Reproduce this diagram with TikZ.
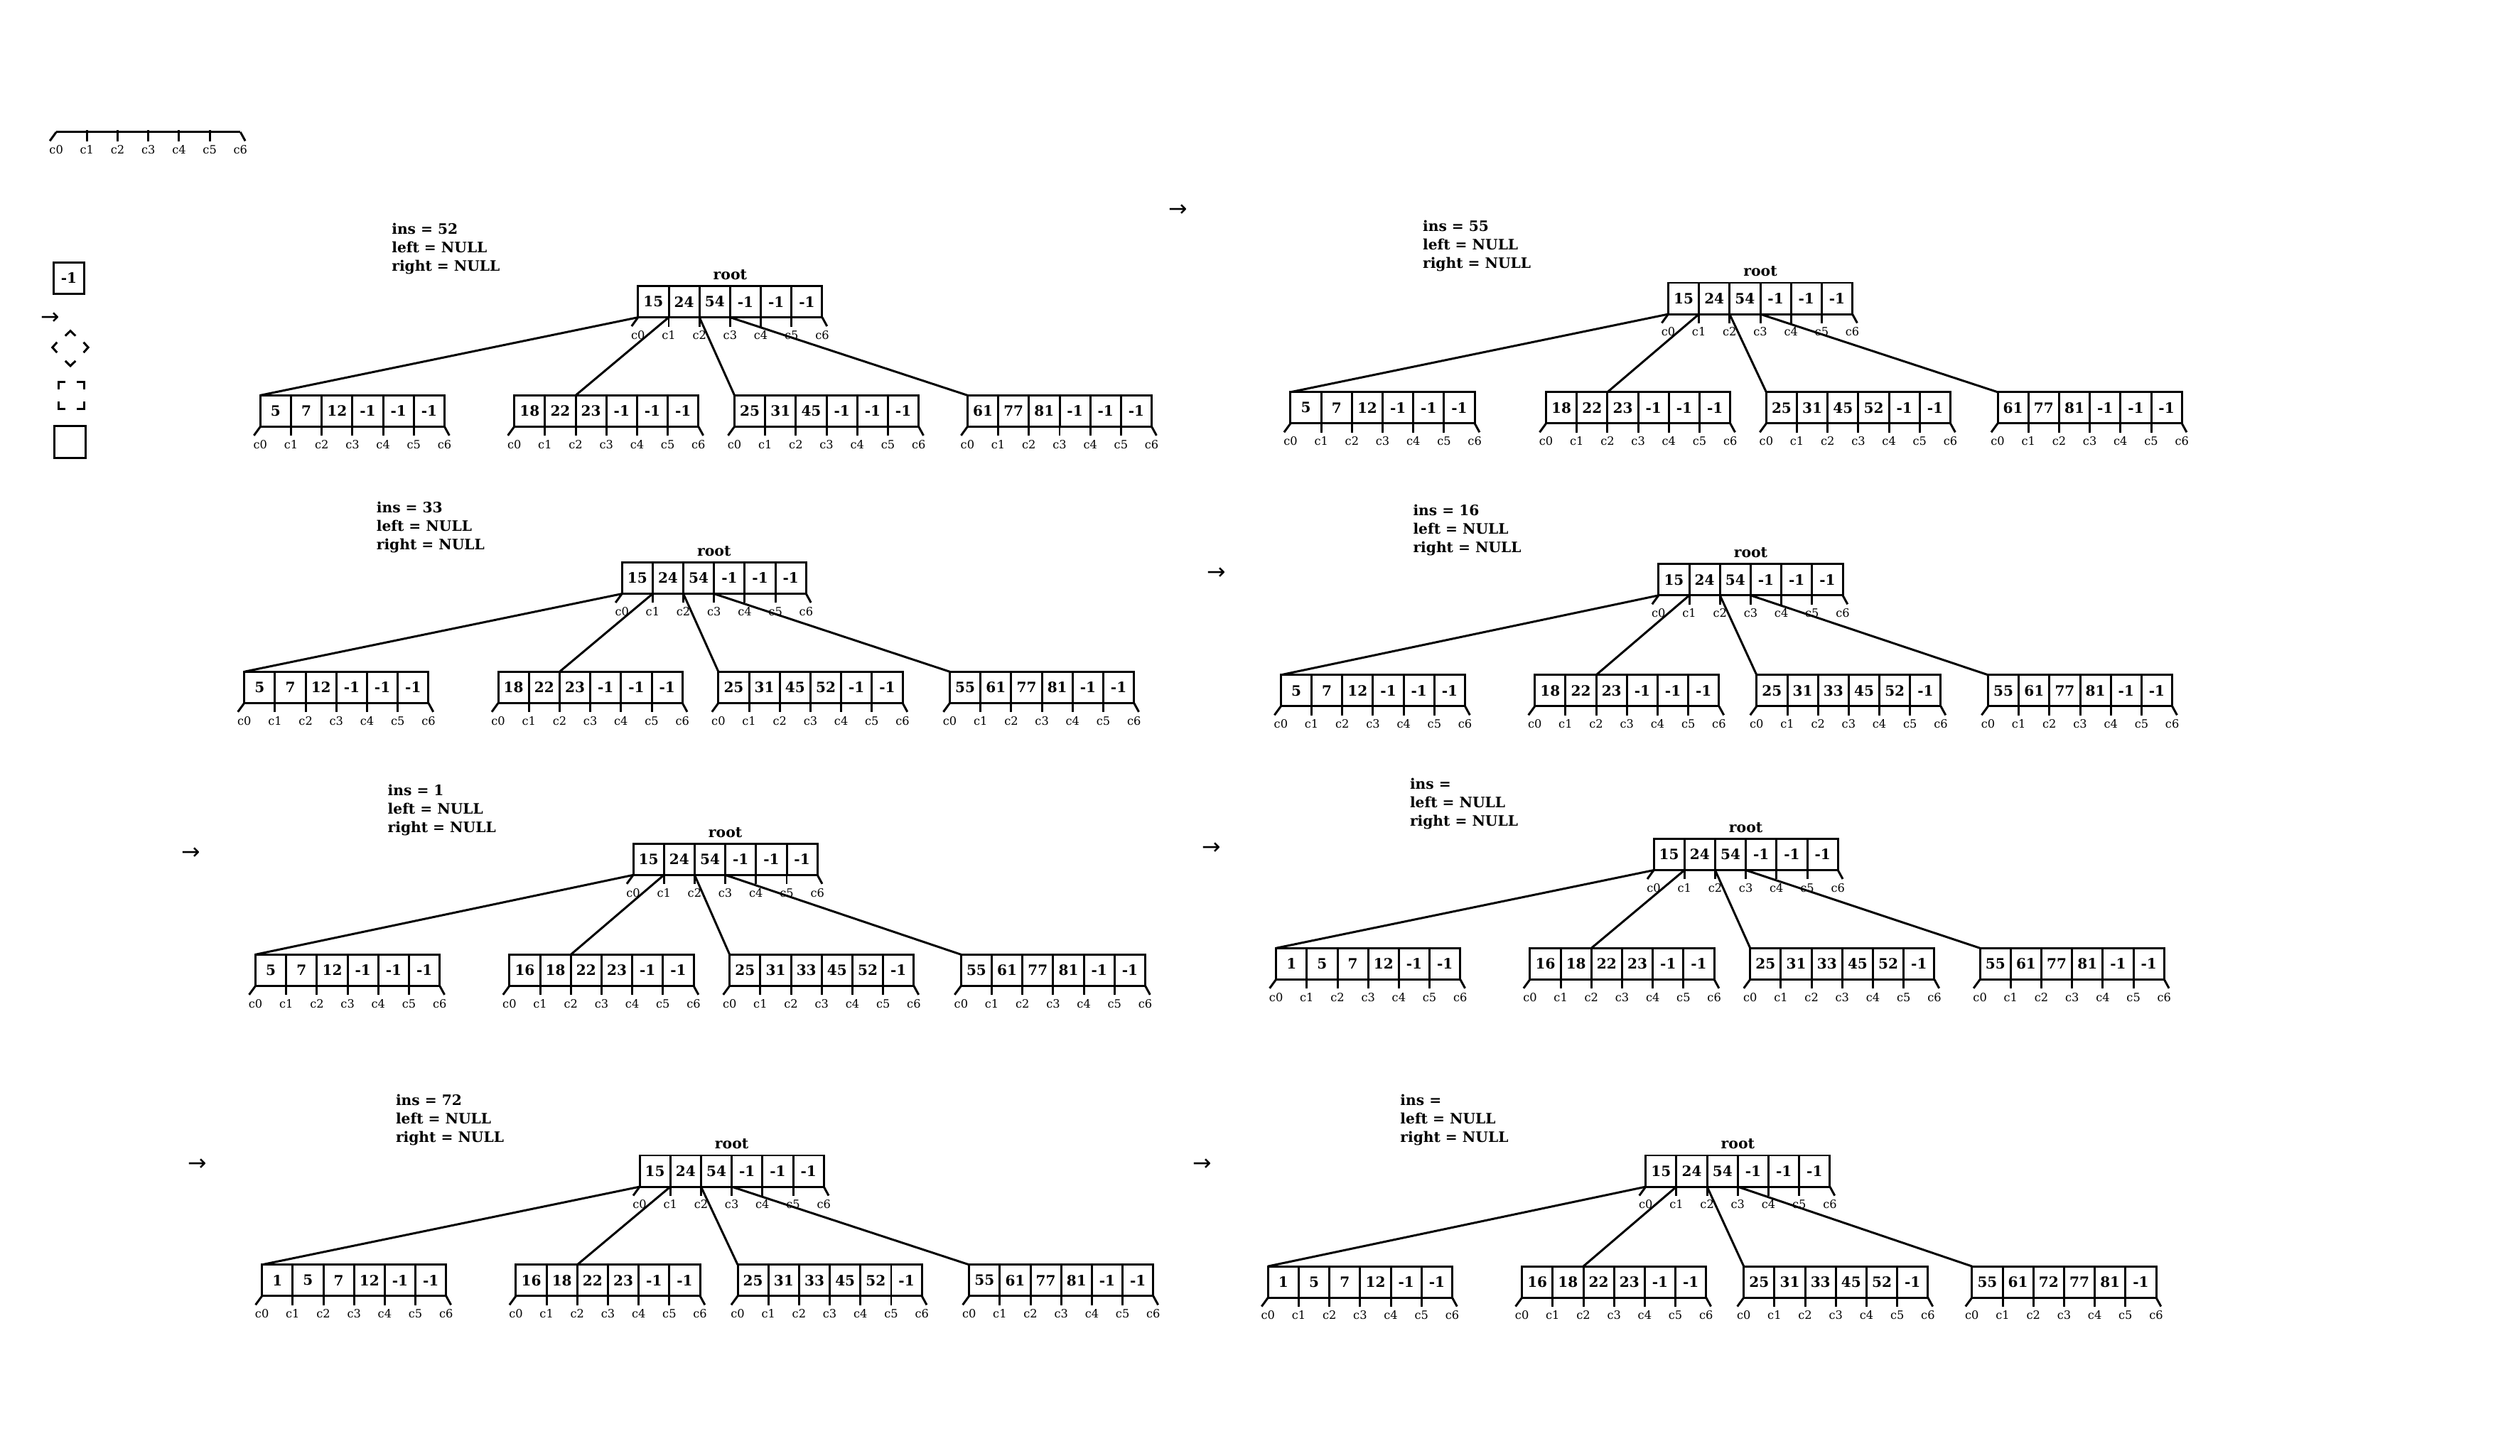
\documentclass[tikz,border=0pt]{standalone}
\usepackage{fontspec}
\setmainfont{DejaVu Serif}
\newfontfamily\arrowfont{DejaVu Sans}

% one B-tree node: #1 name, (#2,#3) top-left corner, #4 the six keys
\newcommand{\keyrow}[4]{%
  \foreach \v [count=\k from 0] in {#4}
    \node[cell] (#1-\k) at ({#2+(\k+0.5)*19.1},{#3+9.75}) {\v};
  \draw[tick] (#1-0.south west) -- ++(-4,5.5);
  \foreach \k in {1,...,5}
    \draw[tick] (#1-\k.south west) -- ++(0,5.7);
  \draw[tick] (#1-5.south east) -- ++(3,5.5);
  \foreach \k in {0,...,5}
    \path (#1-\k.south west) ++(0,11) node[clab] {c\k};
  \path (#1-5.south east) ++(0,11) node[clab] {c6};
}

\begin{document}
\begin{tikzpicture}[
  x=0.022615cm, y=-0.022615cm,
  cell/.style={rectangle, draw, line width=0.85pt, minimum width=0.432cm,
               minimum height=0.441cm, inner sep=0pt, outer sep=0pt,
               font=\bfseries\fontsize{5.7}{6}\selectfont},
  tick/.style={line width=0.85pt},
  link/.style={line width=0.85pt},
  clab/.style={inner sep=0pt, font=\fontsize{4.6}{5}\selectfont},
  info/.style={anchor=west, align=left, inner sep=0pt,
               font=\bfseries\fontsize{5.75}{7.4}\selectfont},
  rootlab/.style={anchor=base, inner sep=0pt, font=\bfseries\fontsize{5.8}{6}\selectfont},
  nextarr/.style={inner sep=0pt, font=\arrowfont\fontsize{9}{9}\selectfont},
]
\useasboundingbox (0,0) rectangle (1568,906);

% ---- Legend ----
\draw[tick] (35,82.2) -- (149.6,82.2);
\draw[tick] (35,82.2) -- ++(-4,5.5);
\foreach \k in {1,...,5}
  \draw[tick] ({35+\k*19.1},81) -- ({35+\k*19.1},87.9);
\draw[tick] (149.6,82.2) -- ++(3,5.5);
\foreach \k in {0,...,6}
  \node[clab] at ({35+\k*19.1},93.3) {c\k};
\node[cell] (empty) at (42.9,173.1) {-1};
\node[nextarr] (arrL) at (31.4,198) {→};
\draw[tick] (40.6,209) -- (43.8,205.9) -- (47,209);
\draw[tick] (35.5,213) -- (32.6,216.2) -- (35.5,219.4);
\draw[tick] (52,213) -- (54.9,216.2) -- (52,219.4);
\draw[tick] (40.6,224.6) -- (43.8,227.7) -- (47,224.6);
\draw[tick] (36.3,242.3) -- (36.3,237.9) -- (40.7,237.9);
\draw[tick] (47.8,237.9) -- (52.2,237.9) -- (52.2,242.3);
\draw[tick] (36.3,249.9) -- (36.3,254.3) -- (40.7,254.3);
\draw[tick] (47.8,254.3) -- (52.2,254.3) -- (52.2,249.9);
\draw[tick] (34,265.3) rectangle (53.5,285.2);

% ---- Panel A: ins = 52 ----
\node[info] (infoA) at (243.5,155) {ins = 52\\left = NULL\\right = NULL};
\keyrow{A0}{397}{178}{15,24,54,-1,-1,-1}
\path (A0-2.north east) ++(0,-4) node[rootlab] (rootA) {root};
\keyrow{A1}{162}{246}{5,7,12,-1,-1,-1}
\keyrow{A2}{320}{246}{18,22,23,-1,-1,-1}
\keyrow{A3}{457}{246}{25,31,45,-1,-1,-1}
\keyrow{A4}{602}{246}{61,77,81,-1,-1,-1}
\draw[link] (A0-0.south west) -- (A1-0.north west);
\draw[link] (A0-1.south west) -- (A2-2.north west);
\draw[link] (A0-2.south west) -- (A3-0.north west);
\draw[link] (A0-3.south west) -- (A4-0.north west);

% ---- Panel B: ins = 55 ----
\node[nextarr] (arrB) at (733,131) {→};
\node[info] (infoB) at (885,153) {ins = 55\\left = NULL\\right = NULL};
\keyrow{B0}{1038}{176}{15,24,54,-1,-1,-1}
\path (B0-2.north east) ++(0,-4) node[rootlab] (rootB) {root};
\keyrow{B1}{803}{244}{5,7,12,-1,-1,-1}
\keyrow{B2}{962}{244}{18,22,23,-1,-1,-1}
\keyrow{B3}{1099}{244}{25,31,45,52,-1,-1}
\keyrow{B4}{1243}{244}{61,77,81,-1,-1,-1}
\draw[link] (B0-0.south west) -- (B1-0.north west);
\draw[link] (B0-1.south west) -- (B2-2.north west);
\draw[link] (B0-2.south west) -- (B3-0.north west);
\draw[link] (B0-3.south west) -- (B4-0.north west);

% ---- Panel C: ins = 33 ----
\node[info] (infoC) at (234,328) {ins = 33\\left = NULL\\right = NULL};
\keyrow{C0}{387}{350}{15,24,54,-1,-1,-1}
\path (C0-2.north east) ++(0,-4) node[rootlab] (rootC) {root};
\keyrow{C1}{152}{418}{5,7,12,-1,-1,-1}
\keyrow{C2}{310}{418}{18,22,23,-1,-1,-1}
\keyrow{C3}{447}{418}{25,31,45,52,-1,-1}
\keyrow{C4}{591}{418}{55,61,77,81,-1,-1}
\draw[link] (C0-0.south west) -- (C1-0.north west);
\draw[link] (C0-1.south west) -- (C2-2.north west);
\draw[link] (C0-2.south west) -- (C3-0.north west);
\draw[link] (C0-3.south west) -- (C4-0.north west);

% ---- Panel D: ins = 16 ----
\node[nextarr] (arrD) at (757,357) {→};
\node[info] (infoD) at (879,330) {ins = 16\\left = NULL\\right = NULL};
\keyrow{D0}{1032}{351}{15,24,54,-1,-1,-1}
\path (D0-2.north east) ++(0,-4) node[rootlab] (rootD) {root};
\keyrow{D1}{797}{420}{5,7,12,-1,-1,-1}
\keyrow{D2}{955}{420}{18,22,23,-1,-1,-1}
\keyrow{D3}{1093}{420}{25,31,33,45,52,-1}
\keyrow{D4}{1237}{420}{55,61,77,81,-1,-1}
\draw[link] (D0-0.south west) -- (D1-0.north west);
\draw[link] (D0-1.south west) -- (D2-2.north west);
\draw[link] (D0-2.south west) -- (D3-0.north west);
\draw[link] (D0-3.south west) -- (D4-0.north west);

% ---- Panel E: ins = 1 ----
\node[nextarr] (arrE) at (119,531) {→};
\node[info] (infoE) at (241,504) {ins = 1\\left = NULL\\right = NULL};
\keyrow{E0}{394}{525}{15,24,54,-1,-1,-1}
\path (E0-2.north east) ++(0,-4) node[rootlab] (rootE) {root};
\keyrow{E1}{159}{594}{5,7,12,-1,-1,-1}
\keyrow{E2}{317}{594}{16,18,22,23,-1,-1}
\keyrow{E3}{454}{594}{25,31,33,45,52,-1}
\keyrow{E4}{598}{594}{55,61,77,81,-1,-1}
\draw[link] (E0-0.south west) -- (E1-0.north west);
\draw[link] (E0-1.south west) -- (E2-2.north west);
\draw[link] (E0-2.south west) -- (E3-0.north west);
\draw[link] (E0-3.south west) -- (E4-0.north west);

% ---- Panel F: ins = ----
\node[nextarr] (arrF) at (754,528) {→};
\node[info] (infoF) at (877,500) {ins =\\left = NULL\\right = NULL};
\keyrow{F0}{1029}{522}{15,24,54,-1,-1,-1}
\path (F0-2.north east) ++(0,-4) node[rootlab] (rootF) {root};
\keyrow{F1}{794}{590}{1,5,7,12,-1,-1}
\keyrow{F2}{952}{590}{16,18,22,23,-1,-1}
\keyrow{F3}{1089}{590}{25,31,33,45,52,-1}
\keyrow{F4}{1232}{590}{55,61,77,81,-1,-1}
\draw[link] (F0-0.south west) -- (F1-0.north west);
\draw[link] (F0-1.south west) -- (F2-2.north west);
\draw[link] (F0-2.south west) -- (F3-0.north west);
\draw[link] (F0-3.south west) -- (F4-0.north west);

% ---- Panel G: ins = 72 ----
\node[nextarr] (arrG) at (123,725) {→};
\node[info] (infoG) at (246,697) {ins = 72\\left = NULL\\right = NULL};
\keyrow{G0}{398}{719}{15,24,54,-1,-1,-1}
\path (G0-2.north east) ++(0,-4) node[rootlab] (rootG) {root};
\keyrow{G1}{163}{787}{1,5,7,12,-1,-1}
\keyrow{G2}{321}{787}{16,18,22,23,-1,-1}
\keyrow{G3}{459}{787}{25,31,33,45,52,-1}
\keyrow{G4}{603}{787}{55,61,77,81,-1,-1}
\draw[link] (G0-0.south west) -- (G1-0.north west);
\draw[link] (G0-1.south west) -- (G2-2.north west);
\draw[link] (G0-2.south west) -- (G3-0.north west);
\draw[link] (G0-3.south west) -- (G4-0.north west);

% ---- Panel H: ins = ----
\node[nextarr] (arrH) at (748,725) {→};
\node[info] (infoH) at (871,697) {ins =\\left = NULL\\right = NULL};
\keyrow{H0}{1024}{719}{15,24,54,-1,-1,-1}
\path (H0-2.north east) ++(0,-4) node[rootlab] (rootH) {root};
\keyrow{H1}{789}{788}{1,5,7,12,-1,-1}
\keyrow{H2}{947}{788}{16,18,22,23,-1,-1}
\keyrow{H3}{1085}{788}{25,31,33,45,52,-1}
\keyrow{H4}{1227}{788}{55,61,72,77,81,-1}
\draw[link] (H0-0.south west) -- (H1-0.north west);
\draw[link] (H0-1.south west) -- (H2-2.north west);
\draw[link] (H0-2.south west) -- (H3-0.north west);
\draw[link] (H0-3.south west) -- (H4-0.north west);

\end{tikzpicture}
\end{document}
